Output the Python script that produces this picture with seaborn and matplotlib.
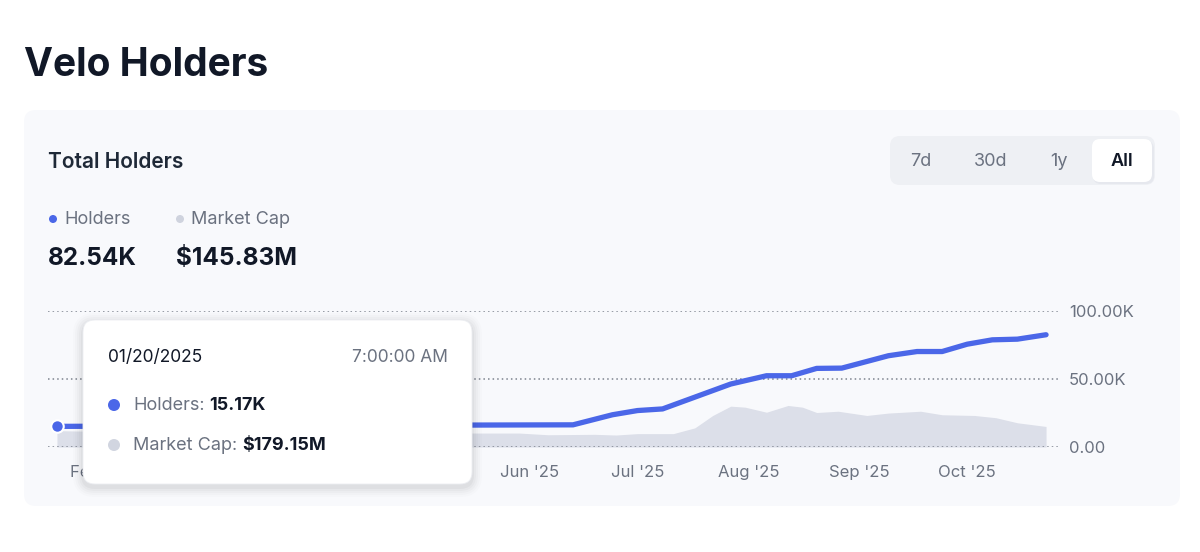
import matplotlib
matplotlib.use('Agg')
import matplotlib.pyplot as plt
import matplotlib.dates as mdates
from matplotlib.patches import FancyBboxPatch, Circle
import seaborn as sns
import pandas as pd

# ---------------- data ----------------
holder_dates = ['2025-01-20', '2025-02-17', '2025-03-17', '2025-04-14', '2025-05-12',
                '2025-06-13', '2025-06-24', '2025-07-01', '2025-07-08', '2025-07-27',
                '2025-08-06', '2025-08-13', '2025-08-20', '2025-08-27', '2025-09-09',
                '2025-09-17', '2025-09-24', '2025-10-01', '2025-10-08', '2025-10-15',
                '2025-10-23']
holder_values = [15170, 15400, 15700, 15900, 16100,
                 16300, 23700, 26800, 28000, 46300,
                 52400, 52400, 57800, 58000, 67100,
                 70200, 70200, 75600, 78800, 79300,
                 82540]

mcap_dates = ['2025-01-20', '2025-02-03', '2025-02-17', '2025-03-03', '2025-03-17',
              '2025-04-01', '2025-04-15', '2025-05-01', '2025-05-16', '2025-05-29',
              '2025-06-06', '2025-06-19', '2025-06-25', '2025-07-01', '2025-07-11',
              '2025-07-17', '2025-07-22', '2025-07-27', '2025-07-31', '2025-08-06',
              '2025-08-12', '2025-08-16', '2025-08-20', '2025-08-26', '2025-09-03',
              '2025-09-09', '2025-09-18', '2025-09-24', '2025-10-03', '2025-10-09',
              '2025-10-15', '2025-10-23']
mcap_values_musd = [116, 110, 106, 100, 97,
                    95, 98, 100, 99, 99,
                    87, 90, 85, 95, 95,
                    136, 224, 290, 283, 247,
                    295, 283, 245, 254, 224,
                    241, 254, 229, 224, 208,
                    172, 146]

y_ticks = [0, 50000, 100000]
y_tick_labels = ['0.00', '50.00K', '100.00K']
range_buttons = ['7d', '30d', '1y', 'All']
title = 'Velo Holders'
card_title = 'Total Holders'
legend_labels = ['Holders', 'Market Cap']
current_values = ['82.54K', '$145.83M']
tooltip_date = '01/20/2025'
tooltip_time = '7:00:00 AM'
tooltip_rows = [('Holders: ', '15.17K'), ('Market Cap: ', '$179.15M')]

# ---------------- style ----------------
BLUE = '#4b67e8'
AREA = '#dcdfe9'
DARK = '#111827'
GREY = '#6b7280'

sns.set_theme(style='white')
plt.rcParams['font.family'] = ['Inter', 'DejaVu Sans']

W, H = 1200, 552
fig = plt.figure(figsize=(12, 5.52), dpi=100, facecolor='white')

# background overlay (pixel coordinates)
bg = fig.add_axes([0, 0, 1, 1], zorder=-5)
bg.set_xlim(0, W); bg.set_ylim(H, 0); bg.axis('off')


def rbox(axx, x0, y0, x1, y1, r, **kw):
    p = FancyBboxPatch((x0 + r, y0 + r), (x1 - x0) - 2 * r, (y1 - y0) - 2 * r,
                       boxstyle=f'round,pad={r}', **kw)
    axx.add_patch(p)
    return p

rbox(bg, 24, 110, 1180, 506, 12, facecolor='#f8f9fc', edgecolor='none')
bg.text(24, 76, title, fontsize=28, fontweight='bold', color=DARK, va='baseline')
bg.text(48, 168, card_title, fontsize=15, fontweight='semibold', color='#1f2937', va='baseline')

# legend
bg.add_patch(Circle((53, 219), 4, color=BLUE, lw=0))
bg.text(64, 224, legend_labels[0], fontsize=13, color=GREY, va='baseline')
bg.add_patch(Circle((180, 219), 4, color='#cfd3de', lw=0))
bg.text(191, 224, legend_labels[1], fontsize=13, color=GREY, va='baseline')
bg.text(48, 265, current_values[0], fontsize=17.5, fontweight='bold', color=DARK, va='baseline')
bg.text(176, 265, current_values[1], fontsize=17.5, fontweight='bold', color=DARK, va='baseline')

# range selector
rbox(bg, 890, 136, 1155, 185, 10, facecolor='#eef0f4', edgecolor='none')
rbox(bg, 1093, 141, 1154, 184, 8, facecolor='#e6e8ee', edgecolor='none')
rbox(bg, 1092, 139, 1152, 182, 8, facecolor='white', edgecolor='none')
btn_x = [921, 991, 1059, 1122]
for lab, bx in zip(range_buttons, btn_x):
    sel = lab == 'All'
    bg.text(bx, 161, lab, fontsize=13, ha='center', va='center',
            color=DARK if sel else GREY, fontweight='semibold' if sel else 'normal')

# ---------------- main chart ----------------
ax = fig.add_axes([48 / W, (H - 447) / H, 1010 / W, 136 / H])
ax2 = ax.twinx()

hd = pd.to_datetime(holder_dates)
md = pd.to_datetime(mcap_dates)

ax2.fill_between(md, mcap_values_musd, 0, color=AREA, lw=0)
ax2.set_ylim(0, 966)
ax2.set_yticks([])

sns.lineplot(x=hd, y=holder_values, ax=ax, color=BLUE, linewidth=3.8)
ax.plot(hd[:1], holder_values[:1], 'o', ms=9, mfc=BLUE, mec='white', mew=1.5, zorder=5)

ax.set_zorder(ax2.get_zorder() + 1)
ax.patch.set_visible(False)
ax2.patch.set_visible(False)

ax.set_xlim(pd.Timestamp('2025-01-17 12:00'), pd.Timestamp('2025-10-26 08:00'))
ax.set_ylim(0, 100000)
ax.set_yticks(y_ticks)
ax.set_yticklabels(y_tick_labels)
ax.yaxis.tick_right()
ax.yaxis.grid(True, linestyle=(0, (1, 2)), color='#7d838e', linewidth=1.1)
ax.xaxis.grid(False)
ax.xaxis.set_major_locator(mdates.MonthLocator())
ax.xaxis.set_major_formatter(mdates.DateFormatter("%b '%y"))
ax.tick_params(axis='y', length=0, pad=8, labelsize=12, labelcolor=GREY)
ax.tick_params(axis='x', length=0, pad=13, labelsize=12, labelcolor=GREY)
ax.set_xlabel(''); ax.set_ylabel('')
for a in (ax, ax2):
    for s in a.spines.values():
        s.set_visible(False)

# ---------------- tooltip overlay ----------------
fg = fig.add_axes([0, 0, 1, 1], zorder=20)
fg.set_xlim(0, W); fg.set_ylim(H, 0); fg.axis('off')
for i, al in enumerate([0.012, 0.016, 0.02, 0.025, 0.03]):
    g = 10 - 2 * i
    rbox(fg, 83 - g, 320 - g + 3, 472 + g, 484 + g + 3, 12 + g, facecolor='black',
         edgecolor='none', alpha=al)
rbox(fg, 83, 320, 472, 484, 12, facecolor='white', edgecolor='#eceef2', lw=0.6)
fg.text(108, 358, tooltip_date, fontsize=12.5, color=DARK, va='center')
fg.text(448, 358, tooltip_time, fontsize=12.5, color=GREY, va='center', ha='right')

fig.canvas.draw()
renderer = fig.canvas.get_renderer()
row_y = [405, 445]
dot_cols = [BLUE, '#d1d5e0']
for (lab, val), ry, dc in zip(tooltip_rows, row_y, dot_cols):
    fg.add_patch(Circle((114, ry), 6, color=dc, lw=0))
    t = fg.text(133, ry, lab.strip(), fontsize=13, color=GREY, va='center')
    bb = t.get_window_extent(renderer)
    xe = fg.transData.inverted().transform((bb.x1, bb.y0))[0]
    fg.text(xe + 5, ry, val, fontsize=13, color=DARK, va='center', fontweight='bold')

fig.savefig('out.png', dpi=100, facecolor='white')
